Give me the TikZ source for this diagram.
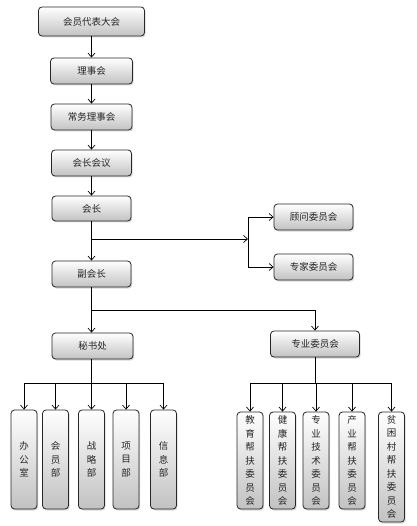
\documentclass[tikz,border=0pt]{standalone}
\usepackage{fontspec}
\setmainfont{Noto Sans CJK SC}
\usetikzlibrary{arrows.meta,shadows}
\begin{document}
\begin{tikzpicture}[x=1pt,y=-1pt,
  box/.style={draw=black!85, line width=0.8pt, rounded corners=3.5pt,
    top color=white, bottom color=black!24,
    drop shadow={shadow xshift=1.2pt, shadow yshift=-1.5pt, opacity=0.3},
    font=\fontsize{9.5}{13.5}\selectfont, text=black!85, inner sep=0pt, align=center},
  hbox/.style={box, minimum width=#1, minimum height=26pt},
  vbox/.style={box, minimum width=26pt, minimum height=#1},
  conn/.style={draw=black, line width=0.8pt},
  arr/.style={conn, -{Straight Barb[length=4pt,width=7pt,line width=0.7pt]}}]
\fill[white] (0,0) rectangle (416,526);
\useasboundingbox (0,0) rectangle (416,526);

% main column
\node[box, minimum width=106pt, minimum height=29pt] (n1) at (91.5,21.5) {会员代表大会};
\node[hbox=82pt] (n2) at (91.5,71) {理事会};
\node[hbox=81pt] (n3) at (91.5,117) {常务理事会};
\node[hbox=80pt] (n4) at (91.5,163) {会长会议};
\node[box, minimum width=79pt, minimum height=25pt] (n5) at (91.5,208.5) {会长};
\node[hbox=79pt] (n6) at (91.5,274) {副会长};

% advisory
\node[hbox=79pt] (g1) at (313.5,217) {顾问委员会};
\node[hbox=79pt] (g2) at (313.5,267) {专家委员会};

% second level
\node[hbox=81pt] (s1) at (92.5,346) {秘书处};
\node[hbox=89pt] (s2) at (315,344) {专业委员会};

% left departments
\node[vbox=99pt] (l1) at (24,459.5) {办\\公\\室};
\node[vbox=99pt] (l2) at (55.5,459.5) {会\\员\\部};
\node[vbox=99pt] (l3) at (91.5,459.5) {战\\略\\部};
\node[vbox=99pt] (l4) at (126,459.5) {项\\目\\部};
\node[vbox=99pt] (l5) at (163.5,459.5) {信\\息\\部};

% right committees
\node[vbox=97pt] (r1) at (250,460.5) {教\\育\\帮\\扶\\委\\员\\会};
\node[vbox=97pt] (r2) at (282.5,460.5) {健\\康\\帮\\扶\\委\\员\\会};
\node[vbox=97pt] (r3) at (316,460.5) {专\\业\\技\\术\\委\\员\\会};
\node[vbox=97pt] (r4) at (352,460.5) {产\\业\\帮\\扶\\委\\员\\会};
\node[vbox=110pt] (r5) at (391.5,467) {贫\\困\\村\\帮\\扶\\委\\员\\会};

% main chain
\draw[arr] (n1) -- (n2);
\draw[arr] (n2) -- (n3);
\draw[arr] (n3) -- (n4);
\draw[arr] (n4) -- (n5);
\draw[arr] (n5) -- (n6);

% advisory branch
\coordinate (b1) at (91.5,239);
\coordinate (b2) at (248,239);
\draw[arr] (b1) -- (b2);
\draw[conn] (b2 |- g1.west) -- (b2 |- g2.west);
\draw[arr] (b2 |- g1.west) -- (g1.west);
\draw[arr] (b2 |- g2.west) -- (g2.west);

% to secretariat and committee
\draw[arr] (n6.south) -- (n6.south |- s1.north);
\coordinate (b3) at (91.5,310);
\draw[arr] (b3) -| (s2.north);

% left bus
\coordinate (lb) at (91.5,383);
\draw[conn] (s1.south -| lb) -- (lb);
\draw[conn] (l1.north |- lb) -- (l5.north |- lb);
\foreach \i in {1,...,5} \draw[arr] (l\i.north |- lb) -- (l\i.north);

% right bus
\coordinate (rb) at (315,383);
\draw[conn] (s2.south) -- (rb);
\draw[conn] (r1.north |- rb) -- (r5.north |- rb);
\foreach \i in {1,...,5} \draw[arr] (r\i.north |- rb) -- (r\i.north);
\end{tikzpicture}
\end{document}
